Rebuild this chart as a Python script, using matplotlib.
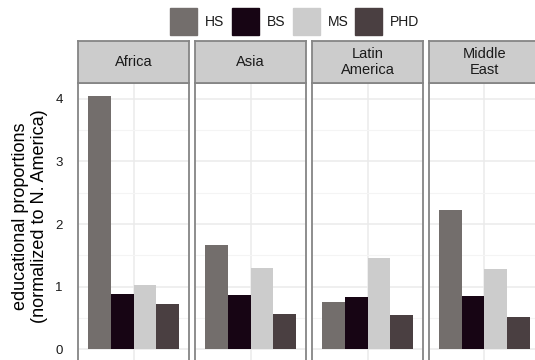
import matplotlib
matplotlib.use("Agg")
import matplotlib.pyplot as plt
from matplotlib.patches import Rectangle
import numpy as np

plt.rcParams['font.family'] = ['Liberation Sans', 'DejaVu Sans']

regions = ["Africa", "Asia", "Latin\nAmerica", "Middle\nEast"]
degrees = ["HS", "BS", "MS", "PHD"]
colors = ["#736e6c", "#170514", "#cccccc", "#4a3f41"]

# proportions normalised to North America, one list per degree level
hs = [4.05, 1.66, 0.75, 2.22]
bs = [0.88, 0.86, 0.83, 0.85]
ms = [1.02, 1.29, 1.46, 1.28]
phd = [0.72, 0.555, 0.545, 0.51]
values = [hs, bs, ms, phd]

y_ticks = [0, 1, 2, 3, 4]

W, H = 535, 360
fig = plt.figure(figsize=(W / 100, H / 100), dpi=100)

def fx(px):
    return px / W

def fy(py):
    return 1 - py / H

panel_left = [78, 195, 312, 429]
panel_w = 111
panel_top, panel_bot = 83.2, 361.7
strip_top = 41
border = "#858585"

ymax = 4.05 * 1.05
ymin = -4.05 * 0.05
bar_w = 0.225
offsets = (np.arange(4) - 1.5) * bar_w

for i, reg in enumerate(regions):
    ax = fig.add_axes([fx(panel_left[i]), fy(panel_bot),
                       fx(panel_w), (panel_bot - panel_top) / H])
    for j in range(4):
        ax.bar(1 + offsets[j], values[j][i], width=bar_w, color=colors[j],
               zorder=3)
    ax.set_xlim(1 - 0.545, 1 + 0.545)
    ax.set_ylim(ymin, ymax)
    ax.set_yticks(y_ticks)
    ax.set_yticks(np.arange(0.5, 4.5, 1.0), minor=True)
    ax.set_xticks([1])
    ax.grid(True, which='major', color="#ebebeb", lw=1.1, zorder=0)
    ax.grid(True, which='minor', axis='y', color="#f4f4f4", lw=0.8, zorder=0)
    ax.tick_params(axis='both', which='both', length=0)
    ax.set_xticklabels([])
    if i == 0:
        ax.set_yticklabels([str(t) for t in y_ticks], fontsize=9.5,
                           color="#1a1a1a")
        ax.tick_params(axis='y', pad=11)
    else:
        ax.set_yticklabels([])
    for s in ax.spines.values():
        s.set_color(border)
        s.set_linewidth(1.3)

    sax = fig.add_axes([fx(panel_left[i]), fy(panel_top),
                        fx(panel_w), (panel_top - strip_top) / H])
    sax.set_facecolor("#cccccc")
    sax.set_xticks([])
    sax.set_yticks([])
    for s in sax.spines.values():
        s.set_color(border)
        s.set_linewidth(1.3)
    sax.text(0.5, 0.5, reg, ha='center', va='center', fontsize=10.5,
             color="#1a1a1a", linespacing=1.2, transform=sax.transAxes)

fig.text(fx(30), fy(216), "educational proportions\n(normalized to N. America)",
         rotation=90, ha='center', va='center', fontsize=13, color="#000000",
         linespacing=1.2)

# legend row
box_x = [170, 232, 293, 355]
for j, lab in enumerate(degrees):
    fig.patches.append(Rectangle((fx(box_x[j]), fy(35)), fx(27), 27 / H,
                                 transform=fig.transFigure, color=colors[j]))
    fig.text(fx(box_x[j] + 35), fy(21.5), lab, ha='left', va='center',
             fontsize=10, color="#1a1a1a")

fig.savefig("out.png", dpi=100)
